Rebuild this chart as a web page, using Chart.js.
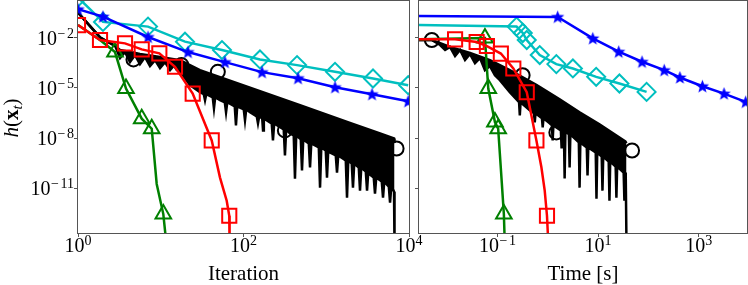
<!DOCTYPE html>
<html>
<head>
<meta charset="utf-8">
<script src="https://cdn.jsdelivr.net/npm/chart.js@4.4.0/dist/chart.umd.min.js"></script>
<style>
  html, body { margin: 0; padding: 0; background: #fff; }
  #wrap { position: relative; width: 748px; height: 285px; overflow: hidden; }
  canvas { position: absolute; top: 0; }
  #iterChart { left: 0; }
  #timeChart { left: 410px; }
</style>
</head>
<body>
<div id="wrap">
  <canvas id="iterChart" width="430" height="285"></canvas>
  <canvas id="timeChart" width="338" height="285"></canvas>
</div>
<script>
// All values as log10 exponents: [log10 x, log10 h(x_t), marker]
const yTicks = [-2, -5, -8, -11];
const iterTicks = [0, 2, 4];
const timeTicks = [-1, 1, 3];

// ---- left panel: vs iteration ----
const iterBlue = [[0, -0.30, 1], [0.302, -0.74, 1], [0.846, -1.96, 1], [1.329, -2.86, 1], [1.776, -3.46, 1],
  [2.224, -4.06, 1], [2.659, -4.42, 1], [3.106, -4.96, 1], [3.553, -5.38, 1], [3.99, -5.80, 1]];
const iterCyan = [[0, 0.4, 1], [0.302, -1.06, 1], [0.846, -1.34, 1], [1.293, -2.24, 1], [1.740, -2.74, 1],
  [2.199, -3.30, 1], [2.647, -3.64, 1], [3.106, -4.04, 1], [3.565, -4.44, 1], [3.99, -4.84, 1]];
const iterRed = [[0, -1.25, 1], [0.266, -2.14, 1], [0.568, -2.34, 1], [0.770, -2.70, 1], [0.983, -2.94, 1],
  [1.172, -3.74, 1], [1.386, -5.34, 1], [1.616, -8.14, 1], [1.716, -10.36, 0], [1.797, -11.74, 0],
  [1.828, -12.64, 1], [1.832, -14.5, 0]];
const iterGreen = [[0, -1.25, 0], [0.266, -2.14, 0], [0.447, -2.86, 1], [0.580, -5.04, 1], [0.770, -6.84, 1],
  [0.891, -7.44, 1], [0.951, -10.74, 0], [1.031, -12.54, 1], [1.072, -14.5, 0]];
const iterBlackTop = [[0, -0.5], [0.27, -2.0], [0.45, -2.5], [0.508, -2.74], [0.749, -2.98], [0.991, -3.16],
  [1.233, -3.34], [1.353, -3.64], [1.474, -3.94], [2.079, -4.99], [2.683, -6.04], [3.287, -7.09],
  [3.650, -7.72], [3.819, -8.02], [3.825, -8.3]];
const iterBlackBottom = [[0, -0.5], [0.27, -2.0], [0.45, -2.5],
  [0.508, -3.22], [0.568, -2.86], [0.628, -3.46], [0.689, -3.04], [0.749, -3.58], [0.810, -3.16], [0.870, -3.70],
  [0.931, -3.34], [0.991, -3.82], [1.051, -3.46], [1.112, -3.94], [1.172, -3.58], [1.233, -4.06], [1.293, -4.42],
  [1.353, -4.84], [1.474, -5.26],
  [1.52, -5.38], [1.535, -5.74], [1.55, -5.38], [1.628, -5.56], [1.643, -6.22], [1.658, -5.56], [1.716, -5.74],
  [1.774, -5.86], [1.789, -6.46], [1.804, -5.86], [1.894, -6.10], [1.909, -7.24], [1.924, -6.10],
  [2.003, -6.28], [2.018, -6.94], [2.033, -6.28], [2.079, -6.46], [2.16, -6.70], [2.175, -7.12], [2.19, -6.70],
  [2.226, -6.82], [2.236, -7.54], [2.246, -6.82], [2.320, -7.06], [2.341, -7.12], [2.356, -8.14], [2.371, -7.12],
  [2.486, -7.48], [2.501, -9.04], [2.516, -7.48], [2.562, -7.72], [2.607, -7.84], [2.622, -10.42], [2.637, -7.84],
  [2.692, -8.08], [2.707, -9.94], [2.722, -8.08], [2.789, -8.32], [2.804, -9.76], [2.819, -8.32],
  [2.91, -8.56], [2.925, -10.96], [2.94, -8.56], [2.994, -8.74], [3.009, -10.36], [3.024, -8.74], [3.045, -8.86],
  [3.115, -9.04], [3.130, -10.06], [3.145, -9.04], [3.236, -9.34], [3.251, -11.56], [3.266, -9.34],
  [3.308, -9.52], [3.323, -10.96], [3.338, -9.52], [3.393, -9.76], [3.408, -11.14], [3.423, -9.76],
  [3.478, -10.0], [3.493, -11.14], [3.508, -10.0], [3.529, -10.18], [3.574, -10.36], [3.589, -11.32], [3.604, -10.36],
  [3.671, -10.60], [3.686, -11.56], [3.701, -10.60], [3.756, -10.90], [3.771, -11.86], [3.786, -10.90],
  [3.807, -11.08], [3.819, -11.2], [3.825, -14.5]];
const iterBlackMarks = [[0.67, -3.30], [1.25, -3.64], [1.69, -4.04], [2.50, -7.54], [3.85, -8.62]];

// ---- right panel: vs time [s] ----
const timeBlue = [[-2.56, -0.70, 0], [0.196, -0.76, 1], [0.895, -2.04, 1], [1.410, -2.84, 1], [1.873, -3.44, 1],
  [2.315, -3.94, 1], [2.626, -4.38, 1], [3.073, -4.90, 1], [3.503, -5.34, 1], [3.933, -5.84, 1]];
const timeCyan = [[-2.56, -1.24, 0], [-0.621, -1.34, 1], [-0.497, -1.72, 1], [-0.418, -2.14, 1], [-0.160, -3.04, 1],
  [0.170, -3.58, 1], [0.499, -3.84, 1], [0.962, -4.34, 1], [1.424, -4.74, 1], [1.964, -5.24, 1]];
const timeRed = [[-2.56, -2.10, 0], [-1.843, -2.10, 1], [-1.414, -2.26, 1], [-1.210, -2.50, 1], [-0.933, -2.95, 1],
  [-0.685, -3.84, 1], [-0.418, -5.26, 1], [-0.226, -8.14, 1], [-0.127, -9.74, 0], [-0.061, -11.14, 0],
  [-0.016, -12.64, 1], [0.014, -14.5, 0]];
const timeGreen = [[-2.56, -2.10, 0], [-1.249, -2.02, 1], [-1.183, -5.04, 1], [-1.051, -7.04, 1], [-0.986, -7.44, 1],
  [-0.913, -10.72, 0], [-0.873, -12.54, 1], [-0.853, -14.5, 0]];
const timeBlackTop = [[-2.56, -2.14], [-2.305, -2.14], [-1.942, -2.56], [-1.546, -2.92], [-1.150, -3.34],
  [-0.755, -3.94], [-0.220, -4.84], [0.236, -5.68], [0.632, -6.46], [1.027, -7.18], [1.542, -8.20], [1.565, -8.3]];
const timeBlackBottom = [[-2.56, -2.14], [-2.305, -2.14], [-2.141, -2.44], [-2.041, -2.74], [-1.942, -2.56],
  [-1.843, -3.10], [-1.744, -2.74], [-1.645, -3.34], [-1.546, -2.98], [-1.447, -3.52], [-1.348, -3.22],
  [-1.249, -3.94], [-1.150, -3.70], [-1.051, -4.24], [-0.952, -4.54], [-0.755, -5.26],
  [-0.571, -5.86], [-0.556, -6.64], [-0.541, -5.86], [-0.358, -6.34], [-0.274, -6.52], [-0.259, -7.06], [-0.244, -6.52],
  [-0.116, -6.82], [-0.101, -7.36], [-0.086, -6.82], [0.038, -7.12], [0.082, -7.24], [0.097, -8.14], [0.112, -7.24],
  [0.26, -7.54], [0.275, -8.62], [0.29, -7.54], [0.32, -7.60], [0.335, -10.42], [0.35, -7.60],
  [0.419, -7.78], [0.434, -9.76], [0.449, -7.78], [0.617, -8.26], [0.632, -10.96], [0.647, -8.26],
  [0.775, -8.56], [0.790, -10.24], [0.805, -8.56], [0.953, -8.86], [0.968, -11.62], [0.983, -8.86],
  [1.072, -9.10], [1.087, -11.14], [1.102, -9.10], [1.211, -9.40], [1.226, -11.74], [1.241, -9.40],
  [1.349, -9.70], [1.364, -11.56], [1.379, -9.70], [1.508, -10.06], [1.523, -11.74], [1.538, -10.06],
  [1.55, -10.3], [1.565, -14.5]];
const timeBlackMarks = [[-2.305, -2.14], [-0.50, -4.24], [0.17, -7.66], [1.675, -8.74]];

const FONT = '"Liberation Serif", "Times New Roman", serif';
const toPts = (arr) => arr.map(([a, b, m]) => ({ x: Math.pow(10, a), y: Math.pow(10, b), m: !!m }));

function makeStar(size, color) {
  const c = document.createElement('canvas');
  c.width = c.height = size;
  const g = c.getContext('2d');
  const R = size / 2 - 0.5, r = R * 0.42;
  g.beginPath();
  for (let i = 0; i < 10; i++) {
    const a = -Math.PI / 2 + i * Math.PI / 5;
    const rr = i % 2 ? r : R;
    g.lineTo(size / 2 + rr * Math.cos(a), size / 2 + 0.5 + rr * Math.sin(a));
  }
  g.closePath();
  g.fillStyle = color;
  g.fill();
  return c;
}
const star = makeStar(15, '#0000ff');

function series(arr, color, style, r, order) {
  return {
    data: toPts(arr),
    borderColor: color,
    backgroundColor: 'rgba(0,0,0,0)',
    borderWidth: 2.5,
    pointStyle: style,
    pointRadius: (c) => (c.raw && c.raw.m ? r : 0),
    pointBorderColor: color,
    pointBackgroundColor: 'rgba(0,0,0,0)',
    pointBorderWidth: 2,
    fill: false,
    tension: 0,
    clip: 0,
    order: order,
  };
}

function datasets(blackBottom, blackTop, blackMarks, cyan, blue, green, red) {
  return [
    { data: toPts(blackBottom), borderColor: '#000', backgroundColor: '#000', borderWidth: 2.5,
      pointRadius: 0, fill: 1, clip: 0, order: 6 },
    { data: toPts(blackTop), borderColor: '#000', backgroundColor: '#000', borderWidth: 2.5,
      pointRadius: 0, fill: false, clip: 0, order: 7 },
    { data: toPts(blackMarks), showLine: false, pointStyle: 'circle', pointRadius: 7, pointBorderWidth: 2,
      pointBorderColor: '#000', pointBackgroundColor: 'rgba(0,0,0,0)', fill: false, clip: 0, order: 5 },
    series(cyan, '#00bfbf', 'rectRot', 9, 4),
    series(blue, '#0000ff', star, 7, 3),
    series(green, '#008000', 'triangle', 9, 2),
    series(red, '#ff0000', 'rect', 10, 1),
  ];
}

// "10" with a raised exponent, the way the axis labels are set
function drawPow(g, e, x, y, align) {
  g.font = '20px ' + FONT;
  const wb = g.measureText('10').width;
  const sup = (e < 0 ? '\u2212' : '') + Math.abs(e);
  g.font = '14px ' + FONT;
  const ws = g.measureText(sup).width + (e < 0 ? 2 : 0);
  const total = wb + ws;
  const x0 = align === 'right' ? x - total : x - total / 2;
  g.textAlign = 'left';
  g.textBaseline = 'alphabetic';
  g.fillStyle = '#000';
  g.font = '20px ' + FONT;
  g.fillText('10', x0, y);
  g.font = '14px ' + FONT;
  if (e < 0) {
    const wm = g.measureText('\u2212').width;
    g.fillText('\u2212', x0 + wb + 0.5, y - 7);
    g.fillText(String(-e), x0 + wb + wm + 2, y - 7);
  } else {
    g.fillText(sup, x0 + wb, y - 7);
  }
}

const axesDecor = {
  id: 'axesDecor',
  afterDatasetsDraw(chart) {
    const a = chart.chartArea, g = chart.ctx;
    g.save();
    g.strokeStyle = '#555';
    g.lineWidth = 1;
    g.strokeRect(Math.round(a.left) - 0.5, Math.round(a.top) - 0.5,
      Math.round(a.right - a.left) + 1, Math.round(a.bottom - a.top) + 1);
    g.restore();
  },
  afterDraw(chart, args, opts) {
    const g = chart.ctx, a = chart.chartArea;
    const xs = chart.scales.x, ys = chart.scales.y;
    g.save();
    xs.ticks.forEach((t) => {
      drawPow(g, Math.round(Math.log10(t.value)), xs.getPixelForValue(t.value), 252, 'center');
    });
    if (opts.yLabels) {
      ys.ticks.forEach((t) => {
        drawPow(g, Math.round(Math.log10(t.value)), a.left - 4, ys.getPixelForValue(t.value) + 7, 'right');
      });
      // y axis title h(x_t)
      const parts = [['italic 21px ', 'h', 0], ['21px ', '(', 0], ['bold 21px ', 'x', 0],
        ['italic 15px ', 't', 4], ['21px ', ')', 0]];
      let total = 0;
      parts.forEach((p) => { g.font = p[0] + FONT; total += g.measureText(p[1]).width; });
      g.translate(18, 118);
      g.rotate(-Math.PI / 2);
      let u = -total / 2;
      g.textAlign = 'left';
      g.textBaseline = 'alphabetic';
      parts.forEach((p) => {
        g.font = p[0] + FONT;
        g.fillText(p[1], u, p[2]);
        u += g.measureText(p[1]).width;
      });
      g.setTransform(1, 0, 0, 1, 0, 0);
    }
    g.font = '21px ' + FONT;
    g.textAlign = 'center';
    g.textBaseline = 'alphabetic';
    g.fillStyle = '#000';
    g.fillText(opts.title, (a.left + a.right) / 2, 280);
    g.restore();
  },
};

function axisOptions(ticks, min, max, fit) {
  return {
    type: 'logarithmic',
    min: Math.pow(10, min),
    max: Math.pow(10, max),
    afterBuildTicks: (ax) => { ax.ticks = ticks.map((e) => ({ value: Math.pow(10, e) })); },
    afterFit: fit,
    ticks: { display: false },
    grid: { drawOnChartArea: false, drawTicks: true, tickLength: 4, color: '#555', lineWidth: 1 },
    border: { display: false },
  };
}

function makeChart(id, data, xTicks, xMin, xMax, yAxisWidth, padRight, title, yLabels) {
  return new Chart(document.getElementById(id), {
    type: 'line',
    data: { datasets: data },
    options: {
      responsive: false,
      animation: false,
      devicePixelRatio: 1,
      layout: { autoPadding: false, padding: { left: 0, right: padRight, top: 1, bottom: 0 } },
      plugins: { legend: { display: false }, tooltip: { enabled: false }, axesDecor: { title, yLabels } },
      scales: {
        x: axisOptions(xTicks, xMin, xMax, (ax) => { ax.height = 52; }),
        y: axisOptions(yTicks, -13.67, 0.19, (ax) => { ax.width = yAxisWidth; }),
      },
    },
    plugins: [axesDecor],
  });
}

makeChart('iterChart',
  datasets(iterBlackBottom, iterBlackTop, iterBlackMarks, iterCyan, iterBlue, iterGreen, iterRed),
  iterTicks, 0, 4, 78, 21, 'Iteration', true);
makeChart('timeChart',
  datasets(timeBlackBottom, timeBlackTop, timeBlackMarks, timeCyan, timeBlue, timeGreen, timeRed),
  timeTicks, -2.56, 3.96, 9, 1, 'Time [s]', false);
</script>
</body>
</html>
